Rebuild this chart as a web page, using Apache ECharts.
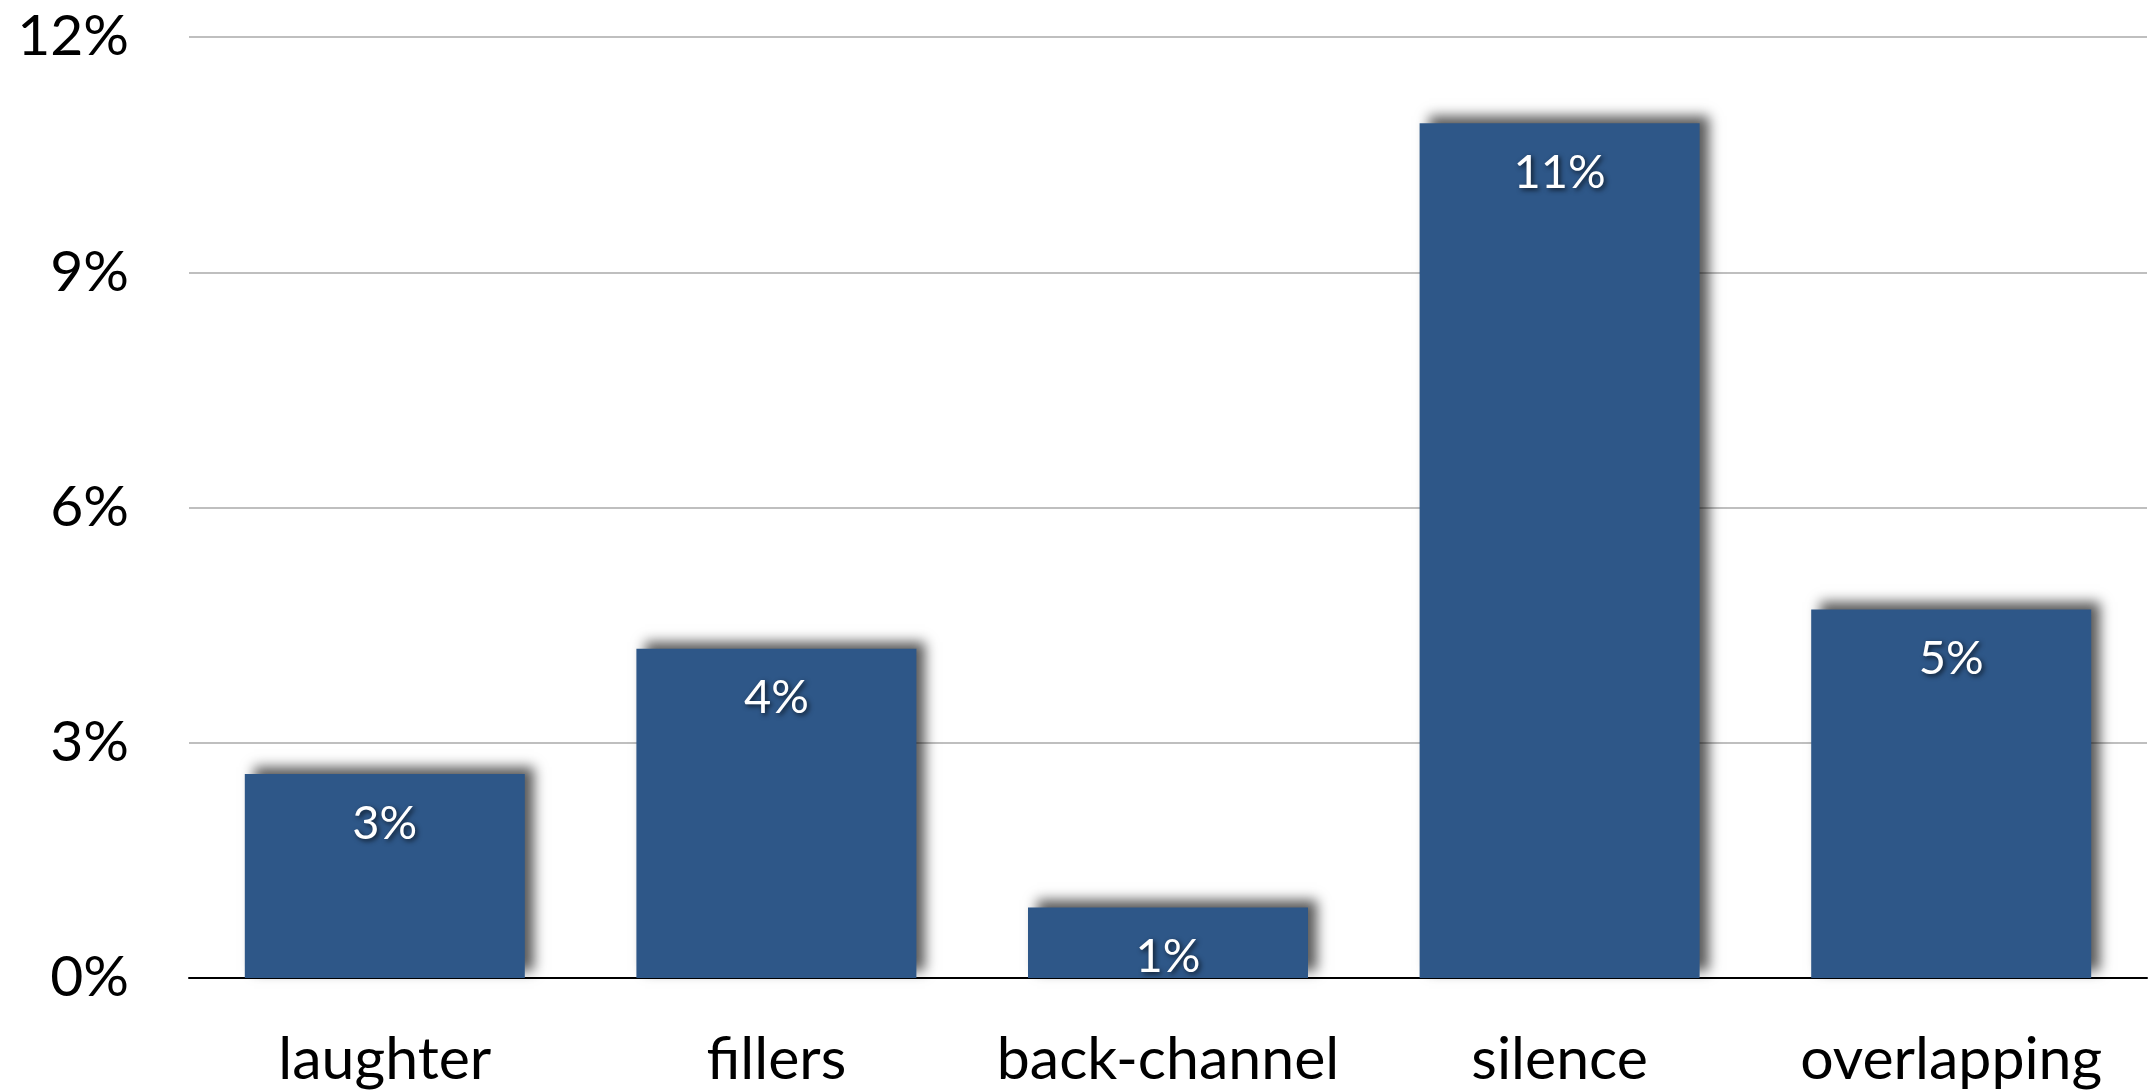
<!DOCTYPE html>
<html>
<head>
<meta charset="utf-8">
<script src="https://cdn.jsdelivr.net/npm/echarts@6/dist/echarts.min.js"></script>
<style>
  html, body { margin: 0; padding: 0; background: #ffffff; }
  #chart { width: 2149px; height: 1092px; }
</style>
</head>
<body>
<div id="chart"></div>
<script>
// Share of each conversational event type (percent)
const categories = ['laughter', 'fillers', 'back-channel', 'silence', 'overlapping'];
const shares = [2.6, 4.2, 0.9, 10.9, 4.7];
const yTicks = { min: 0, max: 12, interval: 3 };

const FONT = 'Lato, "Open Sans", sans-serif';

const chart = echarts.init(document.getElementById('chart'));
chart.setOption({
  animation: false,
  backgroundColor: '#ffffff',
  grid: { left: 189, right: 2, top: 37, bottom: 114, containLabel: false },
  xAxis: {
    type: 'category',
    data: categories,
    axisLine: { lineStyle: { color: '#000000', width: 2 } },
    axisTick: { show: false },
    axisLabel: {
      interval: 0, color: '#000000', fontFamily: FONT, fontSize: 59, margin: 52
    }
  },
  yAxis: {
    type: 'value',
    min: yTicks.min,
    max: yTicks.max,
    interval: yTicks.interval,
    axisLine: { show: false },
    axisTick: { show: false },
    splitLine: { lineStyle: { color: '#bfbfbf', width: 2 } },
    axisLabel: {
      color: '#000000', fontFamily: FONT, fontSize: 57, margin: 60,
      formatter: v => v + '%'
    }
  },
  series: [{
    type: 'bar',
    data: shares,
    barCategoryGap: '28.5%',
    itemStyle: {
      color: '#2E5788',
      shadowColor: 'rgba(0,0,0,0.65)',
      shadowBlur: 12,
      shadowOffsetX: 9,
      shadowOffsetY: -7
    },
    label: {
      show: true,
      position: 'insideTop',
      distance: 26,
      color: '#ffffff',
      fontFamily: FONT,
      fontSize: 47,
      textShadowColor: 'rgba(0,0,0,0.7)',
      textShadowBlur: 5,
      textShadowOffsetX: 2,
      textShadowOffsetY: 2,
      formatter: p => Math.round(p.value) + '%'
    }
  }]
});
</script>
</body>
</html>
